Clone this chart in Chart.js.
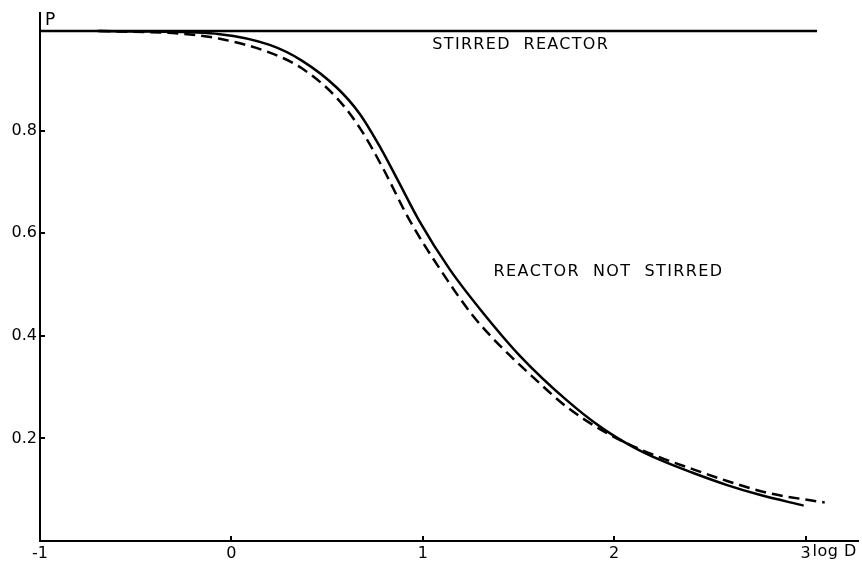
<!DOCTYPE html>
<html>
<head>
<meta charset="utf-8">
<script src="https://cdn.jsdelivr.net/npm/chart.js@4.4.1/dist/chart.umd.min.js"></script>
<style>
  html, body { margin: 0; padding: 0; background: #fff; }
  #wrap { width: 862px; height: 561px; }
</style>
</head>
<body>
<div id="wrap"><canvas id="chart" width="862" height="561"></canvas></div>
<script>
// axis ticks
const xTicks = [-1, 0, 1, 2, 3];
const xTickLabels = ['-1', '0', '1', '2', '3'];
const yTicks = [0.2, 0.4, 0.6, 0.8];
const yTickLabels = ['0.2', '0.4', '0.6', '0.8'];

// stirred reactor: flat line
const stirredX = [-1, 3.06];
const stirredY = [0.994, 0.994];

// reactor not stirred, solid curve
const solidX = [-0.70, -0.43, -0.06, 0.20, 0.37, 0.55, 0.67, 0.78, 0.87, 0.98, 1.14, 1.31, 1.51, 1.75, 1.93, 2.10, 2.24, 2.41, 2.59, 2.76, 2.99];
const solidY = [0.994, 0.993, 0.988, 0.967, 0.936, 0.884, 0.833, 0.766, 0.703, 0.625, 0.530, 0.447, 0.360, 0.275, 0.222, 0.183, 0.158, 0.133, 0.109, 0.090, 0.069];

// reactor not stirred, dashed curve
const dashedX = [-0.69, -0.27, -0.06, 0.20, 0.37, 0.55, 0.68, 0.79, 0.93, 1.09, 1.26, 1.40, 1.58, 1.75, 1.93, 2.08, 2.24, 2.41, 2.59, 2.80, 3.10];
const dashedY = [0.994, 0.989, 0.979, 0.952, 0.921, 0.864, 0.800, 0.728, 0.626, 0.530, 0.440, 0.382, 0.318, 0.262, 0.217, 0.188, 0.163, 0.140, 0.117, 0.094, 0.075];

const toPoints = (xs, ys) => xs.map((x, i) => ({ x: x, y: ys[i] }));

const FONT = "'DejaVu Sans', 'Liberation Sans', sans-serif";

const annotate = {
  id: 'annotate',
  afterDraw(chart) {
    const { ctx, chartArea } = chart;
    const x = chart.scales.x;
    const y = chart.scales.y;
    ctx.save();
    ctx.strokeStyle = '#000';
    ctx.lineWidth = 2;
    // small tick marks pointing into the plot
    yTicks.forEach(v => {
      const py = Math.round(y.getPixelForValue(v));
      ctx.beginPath();
      ctx.moveTo(chartArea.left, py);
      ctx.lineTo(chartArea.left + 5, py);
      ctx.stroke();
    });
    xTicks.slice(1).forEach(v => {
      const px = Math.round(x.getPixelForValue(v));
      ctx.beginPath();
      ctx.moveTo(px, chartArea.bottom);
      ctx.lineTo(px, chartArea.bottom - 5);
      ctx.stroke();
    });

    ctx.fillStyle = '#000';
    ctx.font = '17px ' + FONT;
    ctx.textAlign = 'left';
    ctx.textBaseline = 'middle';
    ctx.fillText('P', chartArea.left + 5, chartArea.top + 8);
    ctx.font = '16px ' + FONT;
    ctx.textBaseline = 'top';
    ctx.letterSpacing = '0.5px';
    ctx.fillText('log D', x.getPixelForValue(3) + 7, chartArea.bottom + 3);

    ctx.textBaseline = 'middle';
    ctx.letterSpacing = '1.3px';
    ctx.fillText('STIRRED  REACTOR', x.getPixelForValue(1.05), y.getPixelForValue(0.967));
    ctx.letterSpacing = '1.4px';
    ctx.fillText('REACTOR  NOT  STIRRED', x.getPixelForValue(1.37), y.getPixelForValue(0.524));
    ctx.restore();
  }
};

const ctx = document.getElementById('chart').getContext('2d');
const chart = new Chart(ctx, {
  type: 'line',
  data: {
    datasets: [
      {
        label: 'Stirred reactor',
        data: toPoints(stirredX, stirredY),
        borderColor: '#000',
        borderWidth: 2.5,
        pointRadius: 0,
        fill: false
      },
      {
        label: 'Reactor not stirred',
        data: toPoints(solidX, solidY),
        borderColor: '#000',
        borderWidth: 2.5,
        pointRadius: 0,
        cubicInterpolationMode: 'monotone',
        fill: false
      },
      {
        label: 'Reactor not stirred (dashed)',
        data: toPoints(dashedX, dashedY),
        borderColor: '#000',
        borderWidth: 2.5,
        borderDash: [11, 6],
        pointRadius: 0,
        cubicInterpolationMode: 'monotone',
        fill: false
      }
    ]
  },
  options: {
    responsive: false,
    animation: false,
    devicePixelRatio: 1,
    layout: { padding: { top: 12, right: 4, left: 0, bottom: 0 } },
    plugins: { legend: { display: false }, tooltip: { enabled: false } },
    scales: {
      x: {
        type: 'linear',
        min: -1,
        max: 3.274,
        afterFit: s => { s.height = 20; },
        afterBuildTicks: s => { s.ticks = xTicks.map(v => ({ value: v })); },
        grid: { display: false, drawTicks: false },
        border: { display: true, color: '#000', width: 2 },
        ticks: {
          padding: 3,
          color: '#000',
          font: { family: FONT, size: 16 },
          maxRotation: 0,
          autoSkip: false,
          callback: v => xTickLabels[xTicks.indexOf(v)]
        }
      },
      y: {
        type: 'linear',
        min: 0,
        max: 1.03,
        afterFit: s => { s.width = 40; },
        afterBuildTicks: s => { s.ticks = yTicks.map(v => ({ value: v })); },
        grid: { display: false, drawTicks: false },
        border: { display: true, color: '#000', width: 2 },
        ticks: {
          padding: 3,
          color: '#000',
          font: { family: FONT, size: 16 },
          autoSkip: false,
          callback: v => yTickLabels[yTicks.indexOf(v)]
        }
      }
    }
  },
  plugins: [annotate]
});
</script>
</body>
</html>
